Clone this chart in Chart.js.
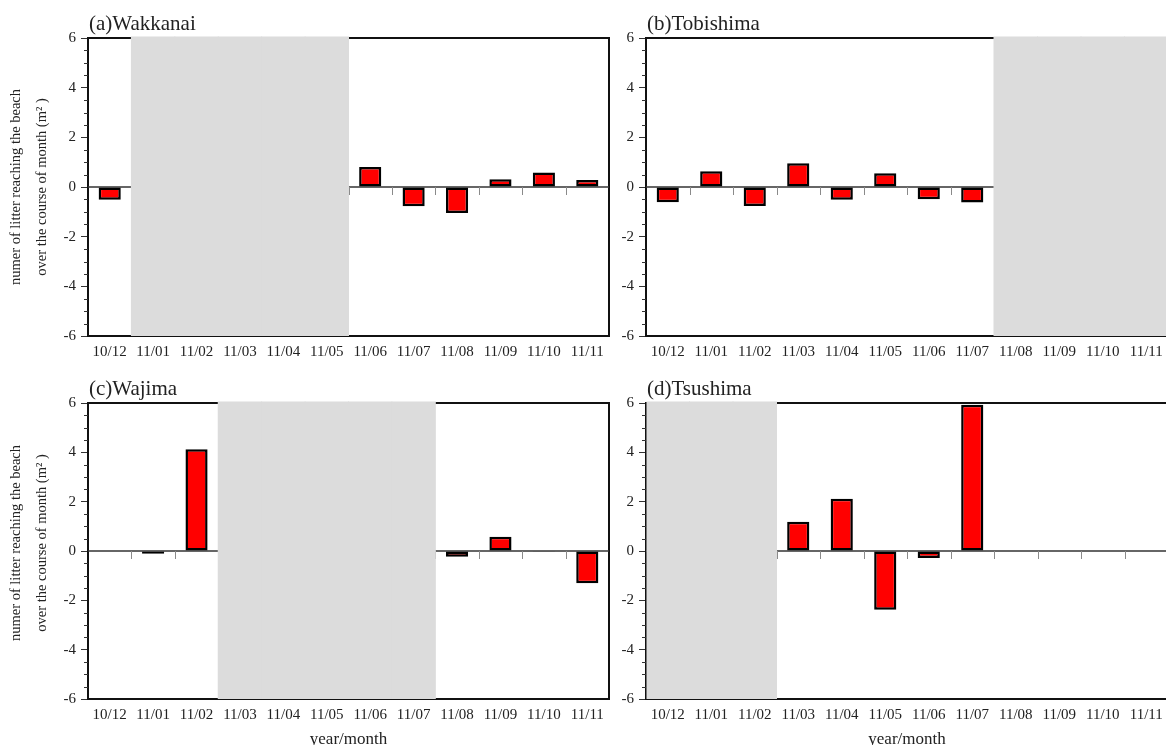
<!DOCTYPE html>
<html>
<head>
<meta charset="utf-8">
<script src="https://cdn.jsdelivr.net/npm/chart.js@4/dist/chart.umd.min.js"></script>
<style>
  html, body { margin: 0; padding: 0; background: #fff; overflow: hidden; width: 1166px; height: 745px; }
  .panel { position: absolute; }
</style>
</head>
<body>
<div class="panel" id="pa" style="left:0px;top:0px;width:620px;height:372px;"><canvas id="ca"></canvas></div>
<div class="panel" id="pb" style="left:600px;top:0px;width:570px;height:372px;"><canvas id="cb"></canvas></div>
<div class="panel" id="pc" style="left:0px;top:365px;width:620px;height:380px;"><canvas id="cc"></canvas></div>
<div class="panel" id="pd" style="left:600px;top:365px;width:570px;height:380px;"><canvas id="cd"></canvas></div>
<script>
// ---- data (null = no observation, shaded grey) ----
const months = ['10/12','11/01','11/02','11/03','11/04','11/05','11/06','11/07','11/08','11/09','11/10','11/11'];
const wakkanai  = [-0.51, null, null, null, null, null, 0.81, -0.78, -1.05, 0.31, 0.58, 0.28];
const tobishima = [-0.61, 0.63, -0.77, 0.96, -0.51, 0.55, -0.49, -0.62, null, null, null, null];
const wajima    = [0, -0.11, 4.12, null, null, null, null, null, -0.23, 0.58, -0.03, -1.31];
const tsushima  = [null, null, null, 1.19, 2.12, -2.38, -0.28, 5.93, 0, 0, 0, 0];
const yTicks = [-6, -4, -2, 0, 2, 4, 6];
const yMinorStep = 0.5;
const yTitleLines = ['numer of litter reaching the beach', 'over the course of month (m\u00B2 )'];
const xTitle = 'year/month';

const SERIF = '"Liberation Serif", "DejaVu Serif", serif';

const panelPlugin = {
  id: 'panelDecor',
  beforeDatasetsDraw(chart, args, o) {
    const { ctx, chartArea: a, scales: { x, y } } = chart;
    const vals = chart.data.datasets[0].data;
    const n = vals.length;
    const w = x.getPixelForValue(1) - x.getPixelForValue(0);
    const y0 = y.getPixelForValue(0);
    ctx.save();
    // frame
    ctx.strokeStyle = '#111';
    ctx.lineWidth = 2;
    ctx.strokeRect(a.left, a.top, a.right - a.left, a.bottom - a.top);
    // zero line
    ctx.strokeStyle = '#333';
    ctx.lineWidth = 1.6;
    ctx.beginPath(); ctx.moveTo(a.left, y0); ctx.lineTo(a.right, y0); ctx.stroke();
    // category boundary ticks hanging from zero line
    ctx.strokeStyle = '#8a8a8a';
    ctx.lineWidth = 1;
    for (let i = 1; i < n; i++) {
      const bx = Math.round(x.getPixelForValue(i) - w / 2) + 0.5;
      ctx.beginPath(); ctx.moveTo(bx, y0); ctx.lineTo(bx, y0 + 8); ctx.stroke();
    }
    // grey shading for missing months
    ctx.fillStyle = '#dcdcdc';
    for (let i = 0; i < n; i++) {
      if (vals[i] !== null) continue;
      let s = x.getPixelForValue(i) - w / 2;
      let e = x.getPixelForValue(i) + w / 2;
      if (i === 0) s = a.left + 1;
      if (i === n - 1) e = a.right + 3;
      ctx.fillRect(s - 0.5, a.top - 1.5, e - s + 1, a.bottom - a.top + 1.5);
    }
    // minor y ticks
    ctx.strokeStyle = '#333';
    ctx.lineWidth = 1;
    for (let v = y.min; v <= y.max + 1e-9; v += yMinorStep) {
      if (yTicks.includes(Math.round(v * 100) / 100)) continue;
      const py = Math.round(y.getPixelForValue(v)) + 0.5;
      ctx.beginPath(); ctx.moveTo(a.left - 4, py); ctx.lineTo(a.left, py); ctx.stroke();
    }
    // panel title
    ctx.fillStyle = '#222';
    ctx.font = '21px ' + SERIF;
    ctx.textAlign = 'left';
    ctx.textBaseline = 'alphabetic';
    ctx.fillText(o.title, a.left + 1, a.top - 8);
    // y title
    if (o.yTitle) {
      ctx.save();
      ctx.font = '14.5px ' + SERIF;
      ctx.textAlign = 'center';
      ctx.textBaseline = 'middle';
      const cy = (a.top + a.bottom) / 2 + (o.yTitleShift || 0);
      const xs = [16, 42];
      yTitleLines.forEach((t, k) => {
        ctx.save();
        ctx.translate(xs[k], cy);
        ctx.rotate(-Math.PI / 2);
        ctx.fillText(t, 0, 0);
        ctx.restore();
      });
      ctx.restore();
    }
    // x title
    if (o.xTitle) {
      ctx.font = '17px ' + SERIF;
      ctx.textAlign = 'center';
      ctx.textBaseline = 'alphabetic';
      ctx.fillText(xTitle, (a.left + a.right) / 2, chart.height - 1);
    }
    ctx.restore();
  }
};

function makePanel(id, data, cfg) {
  return new Chart(document.getElementById(id), {
    type: 'bar',
    data: {
      labels: months,
      datasets: [{
        data: data,
        backgroundColor: '#ff0000',
        borderColor: '#000000',
        borderWidth: 2.5,
        borderSkipped: false,
        barPercentage: 0.51,
        categoryPercentage: 1.0
      }]
    },
    options: {
      responsive: true,
      maintainAspectRatio: false,
      animation: false,
      events: [],
      layout: { padding: { top: 38, left: 0, right: cfg.right, bottom: 0 } },
      plugins: {
        legend: { display: false },
        title: { display: false },
        tooltip: { enabled: false },
        panelDecor: { title: cfg.title, yTitle: cfg.yTitle, xTitle: cfg.xTitle, yTitleShift: cfg.yTitleShift }
      },
      scales: {
        x: {
          type: 'category',
          offset: true,
          grid: { display: false, drawTicks: false },
          border: { display: false },
          ticks: {
            autoSkip: false, maxRotation: 0, minRotation: 0,
            padding: 7,
            color: '#222',
            font: { family: SERIF, size: 15 }
          },
          afterFit(scale) { scale.height = cfg.xHeight; }
        },
        y: {
          min: -6, max: 6,
          grid: { drawOnChartArea: false, drawTicks: true, tickLength: 7, color: '#333', lineWidth: 1 },
          border: { display: false },
          afterBuildTicks(scale) { scale.ticks = yTicks.map(v => ({ value: v })); },
          ticks: {
            padding: 5,
            color: '#222',
            font: { family: SERIF, size: 15 },
            callback: v => String(v)
          },
          afterFit(scale) { scale.width = cfg.yWidth; }
        }
      }
    },
    plugins: [panelPlugin]
  });
}

makePanel('ca', wakkanai,  { title: '(a)Wakkanai',  yTitle: true,  xTitle: false, right: 11, yWidth: 88, xHeight: 36 });
makePanel('cb', tobishima, { title: '(b)Tobishima', yTitle: false, xTitle: false, right: 2,  yWidth: 46, xHeight: 36 });
makePanel('cc', wajima,    { title: '(c)Wajima',    yTitle: true,  xTitle: true,  right: 11, yWidth: 88, xHeight: 46, yTitleShift: -8 });
makePanel('cd', tsushima,  { title: '(d)Tsushima',  yTitle: false, xTitle: true,  right: 2,  yWidth: 46, xHeight: 46 });
</script>
</body>
</html>
